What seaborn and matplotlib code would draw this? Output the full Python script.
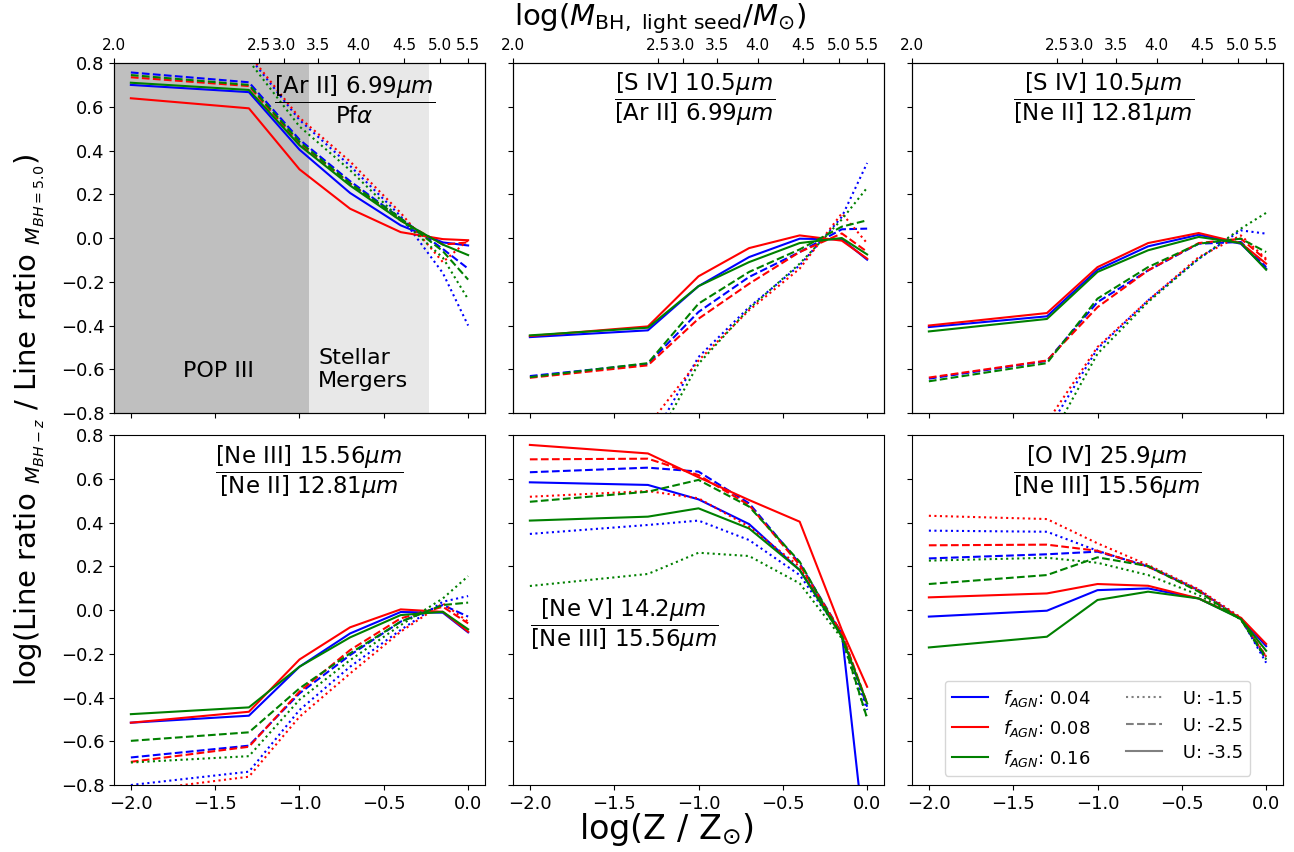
import numpy as np
import pandas as pd
import seaborn as sns
import matplotlib.pyplot as plt
from matplotlib.lines import Line2D

# metallicity grid, log(Z / Zsun)
logz = [-2.0, -1.3, -1.0, -0.7, -0.4, -0.15, 0.0]

fagn = ['0.04', '0.08', '0.16']
u_vals = ['-1.5', '-2.5', '-3.5']
colors = {'0.04': 'blue', '0.08': 'red', '0.16': 'green'}
dashes = {'-1.5': (1, 1.65), '-2.5': (3.7, 1.6), '-3.5': ''}

# top axis: log(M_BH, light seed) ticks, placed in log(Z) units
top_pos = [-2.1, -1.24, -1.09, -0.89, -0.65, -0.38, -0.165, 0.0]
top_labels = ['2.0', '2.5', '3.0', '3.5', '4.0', '4.5', '5.0', '5.5']

# rows: U=-1.5 (fAGN 0.04, 0.08, 0.16), U=-2.5 (...), U=-3.5 (...)
ar2_pfa = [
    [0.95, 0.83, 0.54, 0.33, 0.10, -0.16, -0.40],
    [0.95, 0.84, 0.55, 0.35, 0.115, -0.11, -0.01],
    [0.92, 0.81, 0.51, 0.31, 0.085, -0.09, -0.28],
    [0.757, 0.712, 0.45, 0.26, 0.09, -0.05, -0.14],
    [0.735, 0.695, 0.43, 0.25, 0.08, -0.03, -0.02],
    [0.745, 0.70, 0.44, 0.25, 0.09, -0.06, -0.19],
    [0.70, 0.667, 0.404, 0.206, 0.058, -0.02, -0.034],
    [0.639, 0.593, 0.314, 0.134, 0.027, -0.005, -0.01],
    [0.71, 0.677, 0.424, 0.24, 0.08, -0.03, -0.078],
]
s4_ar2 = [
    [-1.3, -0.95, -0.544, -0.316, -0.125, 0.097, 0.343],
    [-1.2, -0.86, -0.56, -0.33, -0.14, 0.113, -0.024],
    [-1.35, -0.99, -0.575, -0.323, -0.117, 0.085, 0.23],
    [-0.631, -0.575, -0.338, -0.178, -0.064, 0.04, 0.043],
    [-0.639, -0.582, -0.369, -0.209, -0.064, 0.021, -0.063],
    [-0.636, -0.572, -0.30, -0.155, -0.052, 0.052, 0.081],
    [-0.453, -0.422, -0.22, -0.087, -0.003, -0.006, -0.099],
    [-0.448, -0.404, -0.175, -0.046, 0.012, -0.012, -0.094],
    [-0.445, -0.41, -0.22, -0.11, -0.023, 0.0, -0.075],
]
s4_ne2 = [
    [-1.2, -0.883, -0.506, -0.285, -0.095, 0.035, 0.02],
    [-1.15, -0.842, -0.498, -0.285, -0.087, 0.012, -0.095],
    [-1.25, -0.948, -0.529, -0.293, -0.095, 0.043, 0.115],
    [-0.643, -0.562, -0.293, -0.148, -0.026, -0.018, -0.133],
    [-0.638, -0.56, -0.316, -0.148, -0.023, -0.003, -0.10],
    [-0.655, -0.572, -0.277, -0.133, -0.026, -0.003, -0.064],
    [-0.407, -0.358, -0.145, -0.038, 0.015, -0.026, -0.14],
    [-0.40, -0.343, -0.133, -0.023, 0.023, -0.023, -0.117],
    [-0.427, -0.37, -0.155, -0.056, 0.005, -0.023, -0.145],
]
ne3_ne2 = [
    [-0.80, -0.739, -0.457, -0.259, -0.091, 0.038, 0.064],
    [-0.83, -0.762, -0.488, -0.29, -0.099, 0.03, -0.053],
    [-0.697, -0.668, -0.41, -0.229, -0.069, 0.053, 0.155],
    [-0.674, -0.62, -0.381, -0.206, -0.053, 0.023, -0.03],
    [-0.694, -0.625, -0.373, -0.183, -0.038, 0.015, -0.061],
    [-0.598, -0.559, -0.358, -0.198, -0.053, 0.023, 0.034],
    [-0.515, -0.483, -0.259, -0.107, -0.009, -0.012, -0.102],
    [-0.515, -0.465, -0.226, -0.079, 0.003, -0.008, -0.099],
    [-0.476, -0.445, -0.259, -0.125, -0.023, -0.008, -0.088],
]
ne5_ne3 = [
    [0.348, 0.389, 0.409, 0.32, 0.16, -0.114, -0.457],
    [0.518, 0.544, 0.511, 0.381, 0.198, -0.107, -0.43],
    [0.11, 0.165, 0.262, 0.247, 0.122, -0.13, -0.495],
    [0.63, 0.651, 0.633, 0.488, 0.213, -0.107, -0.442],
    [0.689, 0.692, 0.617, 0.48, 0.206, -0.107, -0.427],
    [0.495, 0.541, 0.595, 0.473, 0.221, -0.122, -0.495],
    [0.584, 0.572, 0.506, 0.393, 0.183, -0.107, -1.15],
    [0.755, 0.716, 0.607, 0.503, 0.404, -0.091, -0.351],
    [0.409, 0.427, 0.465, 0.373, 0.183, -0.122, -0.427],
]
o4_ne3 = [
    [0.363, 0.358, 0.271, 0.198, 0.091, -0.038, -0.241],
    [0.431, 0.416, 0.305, 0.206, 0.095, -0.034, -0.213],
    [0.226, 0.239, 0.216, 0.16, 0.069, -0.043, -0.226],
    [0.236, 0.255, 0.267, 0.201, 0.091, -0.041, -0.226],
    [0.296, 0.299, 0.271, 0.198, 0.088, -0.041, -0.213],
    [0.119, 0.16, 0.241, 0.201, 0.084, -0.043, -0.216],
    [-0.03, -0.003, 0.091, 0.099, 0.053, -0.038, -0.165],
    [0.058, 0.076, 0.119, 0.111, 0.053, -0.035, -0.155],
    [-0.171, -0.122, 0.046, 0.084, 0.053, -0.041, -0.186],
]

panels = [
    (ar2_pfa, r'$\dfrac{\mathrm{[Ar\ II]}\ 6.99\mu m}{\mathrm{Pf}\alpha}$', 0.647, 0.895),
    (s4_ar2, r'$\dfrac{\mathrm{[S\ IV]}\ 10.5\mu m}{\mathrm{[Ar\ II]}\ 6.99\mu m}$', 0.49, 0.895),
    (s4_ne2, r'$\dfrac{\mathrm{[S\ IV]}\ 10.5\mu m}{\mathrm{[Ne\ II]}\ 12.81\mu m}$', 0.515, 0.895),
    (ne3_ne2, r'$\dfrac{\mathrm{[Ne\ III]}\ 15.56\mu m}{\mathrm{[Ne\ II]}\ 12.81\mu m}$', 0.525, 0.893),
    (ne5_ne3, r'$\dfrac{\mathrm{[Ne\ V]}\ 14.2\mu m}{\mathrm{[Ne\ III]}\ 15.56\mu m}$', 0.30, 0.456),
    (o4_ne3, r'$\dfrac{\mathrm{[O\ IV]}\ 25.9\mu m}{\mathrm{[Ne\ III]}\ 15.56\mu m}$', 0.526, 0.893),
]


def to_long(values):
    rows = []
    for iu, u in enumerate(u_vals):
        for jf, f in enumerate(fagn):
            for x, v in zip(logz, values[iu * 3 + jf]):
                rows.append({'logZ': x, 'ratio': v, 'fAGN': f, 'U': u})
    return pd.DataFrame(rows)


fig = plt.figure(figsize=(12.94, 8.52), dpi=100)
axes = fig.subplots(2, 3, sharex=True, sharey=True)
fig.subplots_adjust(left=0.0881, right=0.9915, top=0.926, bottom=0.0786,
                    wspace=0.0755, hspace=0.063)

for ax, (values, title, tx, ty) in zip(axes.flat, panels):
    df = to_long(values)
    sns.lineplot(data=df, x='logZ', y='ratio', hue='fAGN', style='U',
                 hue_order=fagn, style_order=u_vals, palette=colors,
                 dashes=dashes, linewidth=1.5, errorbar=None, legend=False, ax=ax)
    ax.set_xlabel('')
    ax.set_ylabel('')
    ax.text(tx, ty, title, transform=ax.transAxes, ha='center', va='center',
            fontsize=16.5)
    ax.tick_params(labelsize=13)

ax = axes[0, 0]
ax.set_xlim(-2.1, 0.1)
ax.set_ylim(-0.8, 0.8)
ax.set_xticks([-2.0, -1.5, -1.0, -0.5, 0.0])
ax.set_yticks(np.arange(-0.8, 0.81, 0.2))

# formation channel shading
ax.axvspan(-2.1, -0.946, color='gray', alpha=0.5, lw=0, zorder=0)
ax.axvspan(-0.946, -0.234, color='lightgray', alpha=0.5, lw=0, zorder=0)
ax.text(-1.48, -0.61, 'POP III', ha='center', va='center', fontsize=16)
ax.text(-0.89, -0.60, 'Stellar\nMergers', ha='left', va='center', fontsize=16)

for ax in axes[0]:
    top = ax.twiny()
    top.set_xlim(-2.1, 0.1)
    top.set_xticks(top_pos)
    top.set_xticklabels(top_labels, fontsize=11)

handles = [Line2D([], [], color=colors[f], lw=1.5) for f in fagn]
handles += [Line2D([], [], color='gray', lw=1.5, dashes=dashes[u]) if dashes[u]
            else Line2D([], [], color='gray', lw=1.5) for u in u_vals]
labels = [r'$f_{AGN}$: ' + f for f in fagn] + [' U: ' + u for u in u_vals]
axes[1, 2].legend(handles, labels, loc='lower center', ncol=2, fontsize=13)

fig.text(0.023, 0.507,
         r'log(Line ratio $_{M_{BH-z}}$ / Line ratio $_{M_{BH=5.0}}$)',
         rotation=90, ha='center', va='center', fontsize=21)
fig.text(0.515, 0.026, r'log(Z / Z$_{\odot}$)', ha='center', va='center', fontsize=24)
fig.text(0.51, 0.998, r'log($M_{\rm BH,\ light\ seed}/M_{\odot}$)',
         ha='center', va='top', fontsize=21)

fig.savefig('out.png', dpi=100)
